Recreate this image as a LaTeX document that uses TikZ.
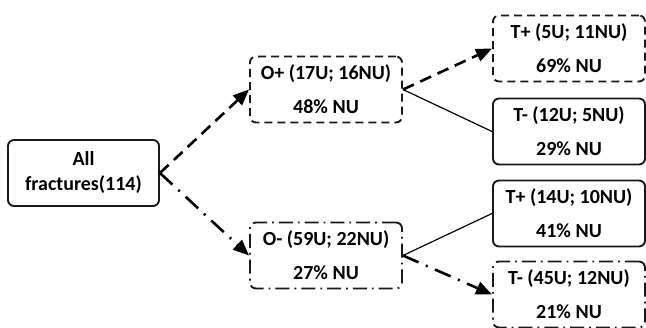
\documentclass[tikz,border=0pt]{standalone}
\usepackage{fontspec}
\setmainfont{Carlito}
\usetikzlibrary{arrows.meta}
\begin{document}
\begin{tikzpicture}[x=1pt,y=-1pt,
  box/.style={draw=black!90, line width=1.9pt, rounded corners=6pt, minimum width=152pt, minimum height=66pt,
    inner sep=0pt, align=center, font=\bfseries\fontsize{20}{34}\selectfont},
  dbox/.style={box, dash pattern=on 8pt off 5pt},
  ddbox/.style={box, dash pattern=on 14pt off 5pt on 1.8pt off 5pt},
  dashedarrow/.style={line width=2.6pt, dash pattern=on 12pt off 7pt, -{Triangle[length=16pt,width=13pt]}},
  dotarrow/.style={line width=2.6pt, dash pattern=on 17pt off 8pt on 2pt off 8pt, -{Triangle[length=16pt,width=13pt]}},
  plain/.style={line width=1.2pt}]
\useasboundingbox (0,0) rectangle (646,328);
\node[box, minimum width=151pt, minimum height=66pt, font=\bfseries\fontsize{20}{25}\selectfont] (all) at (83.5,173) {All\\fractures(114)};
\node[dbox] (op) at (326,89.5) {O+ (17U; 16NU)\\48\% NU};
\node[ddbox] (om) at (326,255.5) {O- (59U; 22NU)\\27\% NU};
\node[dbox] (tp1) at (569,48.5) {T+ (5U; 11NU)\\69\% NU};
\node[box] (tm1) at (569,131.5) {T- (12U; 5NU)\\29\% NU};
\node[box] (tp2) at (569,213.5) {T+ (14U; 10NU)\\41\% NU};
\node[ddbox] (tm2) at (569,294.5) {T- (45U; 12NU)\\21\% NU};
\draw[dashedarrow] (all.east) -- (op.west);
\draw[dotarrow] (all.east) -- (om.west);
\draw[dashedarrow] (op.east) -- (tp1.west);
\draw[plain] (op.east) -- (tm1.west);
\draw[plain] (om.east) -- (tp2.west);
\draw[dotarrow] (om.east) -- (tm2.west);
\end{tikzpicture}
\end{document}
